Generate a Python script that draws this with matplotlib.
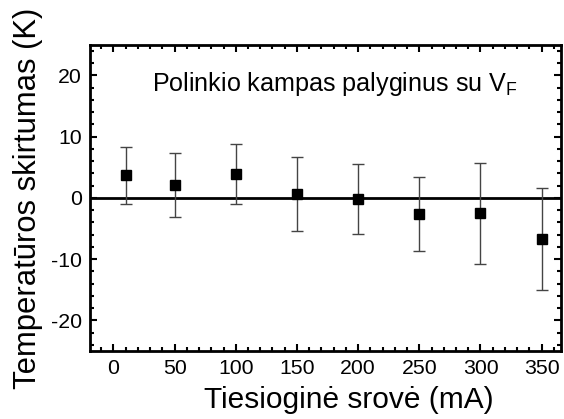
import numpy as np
import matplotlib.pyplot as plt
from matplotlib.ticker import MultipleLocator

plt.rcParams['font.family'] = ['Liberation Sans', 'DejaVu Sans']
plt.rcParams['axes.unicode_minus'] = False

current_ma = [10, 50, 100, 150, 200, 250, 300, 350]
temp_diff = [3.7, 2.1, 3.85, 0.65, -0.2, -2.6, -2.5, -6.7]
temp_err = [4.7, 5.2, 4.9, 6.0, 5.7, 6.1, 8.2, 8.3]

fig, ax = plt.subplots(figsize=(5.64, 4.19), dpi=100)
fig.subplots_adjust(left=0.16, right=0.995, top=0.893, bottom=0.162)

ax.axhline(0, color='black', linewidth=2, zorder=1)
ax.errorbar(current_ma, temp_diff, yerr=temp_err, fmt='s', color='black',
            ecolor='#444444', elinewidth=1, capsize=4, capthick=1,
            markersize=7.5, zorder=3)

ax.set_xlim(-19, 366)
ax.set_ylim(-25, 25)
ax.xaxis.set_major_locator(MultipleLocator(50))
ax.xaxis.set_minor_locator(MultipleLocator(10))
ax.yaxis.set_major_locator(MultipleLocator(10))
ax.yaxis.set_minor_locator(MultipleLocator(2))
ax.tick_params(which='both', direction='in', top=True, right=True,
               labeltop=False, labelright=False, width=1.5)
ax.tick_params(which='major', length=5, labelsize=15.3, pad=6)
ax.tick_params(which='minor', length=3)
for spine in ax.spines.values():
    spine.set_linewidth(2)

ax.set_xlabel('Tiesioginė srovė (mA)', fontsize=21.5)
ax.xaxis.set_label_coords(0.548, -0.115, transform=ax.transAxes)
ax.xaxis.label.set_va('top')
ax.set_ylabel('Temperatūros skirtumas (K)', fontsize=22.3, labelpad=6)
ax.text(0.131, 0.85, 'Polinkio kampas palyginus su V$_\\mathregular{F}$',
        transform=ax.transAxes, fontsize=18.1)

plt.savefig('out.png')
